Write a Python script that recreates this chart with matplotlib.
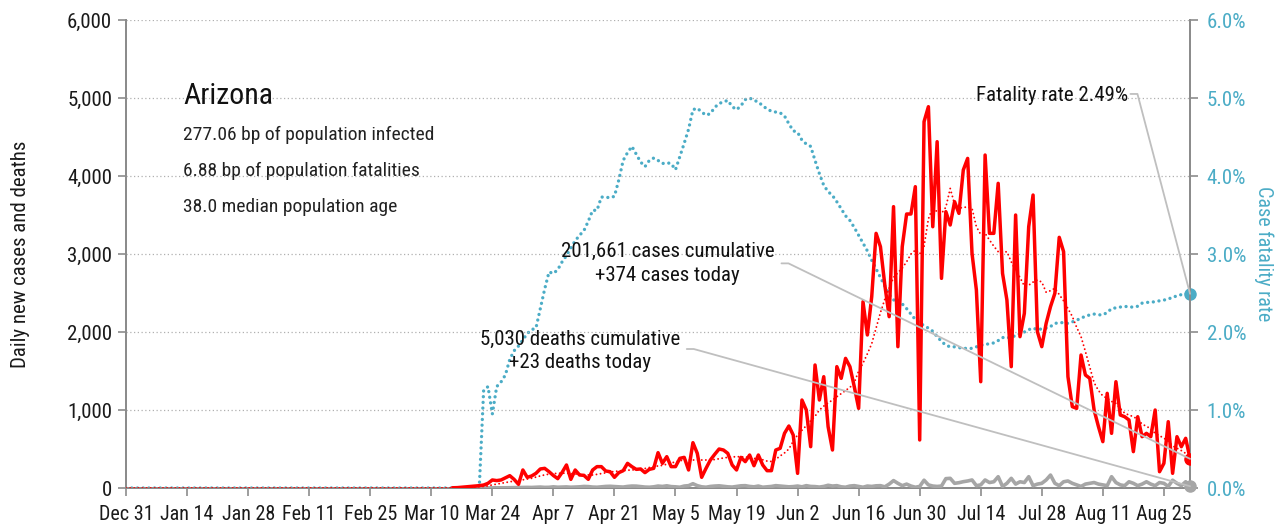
import numpy as np
import pandas as pd
import matplotlib
matplotlib.use("Agg")
import matplotlib.pyplot as plt
import matplotlib.dates as mdates
from matplotlib.ticker import FuncFormatter

plt.rcParams['font.family'] = ['Roboto Condensed', 'Liberation Sans Narrow', 'Roboto', 'DejaVu Sans']

# data: daily values, Dec 31 2019 .. Aug 31 2020
first_day = pd.Timestamp('2019-12-31')
last_day = pd.Timestamp('2020-08-31')

# daily new cases from Mar 15
cases_start = pd.Timestamp('2020-03-15')
cases = [3, 5, 10, 15, 20, 25, 30, 38, 60, 103,
         95, 103, 130, 158, 110, 47, 231, 137, 154, 188,
         244, 252, 209, 160, 120, 200, 295, 111, 231, 167,
         162, 111, 231, 274, 274, 218, 209, 137, 197, 222,
         316, 274, 239, 244, 197, 239, 252, 453, 316, 402,
         274, 274, 380, 393, 231, 581, 444, 137, 252, 359,
         432, 500, 487, 444, 295, 231, 393, 338, 423, 286,
         423, 295, 222, 222, 487, 509, 701, 795, 679, 188,
         1128, 1000, 530, 1577, 1128, 1427, 786, 487, 1556, 1406,
         1662, 1556, 1299, 1021, 2389, 1962, 2453, 3265, 3094, 2603,
         2197, 3607, 1812, 3094, 3513, 3513, 3863, 616, 4697, 4889,
         3350, 4440, 2688, 3543, 3372, 3671, 3521, 4077, 4226, 3009,
         2539, 1363, 4269, 3265, 3265, 3906, 2752, 2411, 1556, 3500,
         1940, 2239, 3350, 3756, 2004, 1812, 2111, 2325, 2496, 3214,
         3030, 1427, 1043, 1021, 1705, 1449, 1406, 1000, 786, 594,
         1214, 701, 1363, 936, 914, 872, 466, 914, 658, 701,
         658, 1000, 209, 316, 850, 188, 658, 530, 637, 374]

# 7-day average of cases (red dotted), same dates as cases, zero before
cases_avg = [1, 2, 3, 5, 8, 12, 16, 20, 28, 40,
             50, 60, 70, 80, 88, 95, 105, 115, 125, 140,
             155, 168, 178, 185, 188, 190, 190, 185, 180, 175,
             170, 167, 167, 175, 185, 195, 205, 212, 218, 222,
             228, 231, 235, 240, 250, 262, 275, 282, 290, 305,
             320, 335, 350, 359, 359, 360, 360, 358, 358, 359,
             365, 375, 385, 393, 398, 402, 400, 398, 390, 380,
             370, 362, 345, 340, 370, 410, 450, 500, 600, 680,
             740, 800, 860, 920, 1000, 1050, 1090, 1128, 1170, 1210,
             1250, 1290, 1350, 1500, 1600, 1720, 1850, 2050, 2250, 2420,
             2560, 2700, 2760, 2820, 2900, 3000, 3050, 3000, 3100, 3450,
             3600, 3540, 3520, 3600, 3840, 3640, 3585, 3600, 3600, 3585,
             3350, 3250, 3265, 3180, 3100, 3030, 3020, 3030, 2900, 2790,
             2700, 2590, 2600, 2640, 2667, 2640, 2510, 2530, 2560, 2480,
             2400, 2300, 2200, 2060, 1940, 1750, 1550, 1350, 1250, 1180,
             1150, 1110, 1085, 1020, 960, 935, 915, 880, 820, 790,
             760, 700, 670, 640, 600, 540, 510, 480, 444, 402]

# daily deaths and case fatality rate (%) from Mar 21
deaths_start = pd.Timestamp('2020-03-21')
deaths = [0, 1, 1, 2, 2, 3, 3, 4, 5, 5,
          6, 8, 7, 10, 12, 8, 9, 15, 10, 12,
          14, 10, 12, 15, 20, 18, 12, 10, 15, 20,
          22, 18, 15, 12, 20, 25, 24, 18, 12, 10,
          15, 25, 20, 28, 18, 15, 10, 25, 30, 55,
          30, 15, 10, 20, 25, 28, 22, 15, 12, 20,
          28, 30, 20, 15, 25, 10, 15, 20, 30, 25,
          20, 15, 18, 25, 15, 30, 20, 18, 12, 20,
          35, 25, 30, 15, 10, 25, 30, 20, 10, 25,
          20, 28, 30, 15, 50, 95, 60, 30, 50, 25,
          10, 20, 100, 40, 25, 20, 25, 120, 124, 60,
          68, 81, 90, 103, 30, 40, 103, 70, 80, 145,
          20, 60, 124, 50, 80, 70, 145, 30, 50, 60,
          103, 166, 60, 30, 80, 90, 60, 40, 20, 50,
          60, 70, 50, 40, 30, 145, 70, 40, 30, 80,
          60, 30, 50, 80, 50, 30, 70, 60, 20, 100,
          60, 30, 80, 23]

# zero before Mar 21
cfr = [0.0, 1.25, 1.30, 0.95, 1.30, 1.36, 1.45, 1.65, 1.76, 1.82,
       1.90, 1.98, 2.03, 2.05, 2.30, 2.55, 2.77, 2.75, 2.80, 2.90,
       2.98, 3.08, 3.17, 3.24, 3.30, 3.42, 3.56, 3.56, 3.73, 3.73,
       3.72, 3.74, 3.95, 4.20, 4.30, 4.38, 4.28, 4.18, 4.12, 4.20,
       4.23, 4.20, 4.16, 4.17, 4.16, 4.08, 4.25, 4.42, 4.60, 4.85,
       4.87, 4.82, 4.78, 4.80, 4.88, 4.93, 4.95, 4.97, 4.89, 4.85,
       4.90, 4.98, 5.00, 4.97, 4.95, 4.90, 4.86, 4.83, 4.82, 4.81,
       4.77, 4.67, 4.58, 4.56, 4.46, 4.41, 4.38, 4.20, 4.03, 3.88,
       3.80, 3.75, 3.67, 3.58, 3.49, 3.43, 3.34, 3.24, 3.14, 3.04,
       2.92, 2.81, 2.70, 2.59, 2.48, 2.41, 2.42, 2.36, 2.30, 2.23,
       2.16, 2.12, 2.08, 2.05, 2.01, 1.94, 1.88, 1.83, 1.81, 1.81,
       1.80, 1.79, 1.79, 1.79, 1.81, 1.83, 1.84, 1.85, 1.86, 1.89,
       1.93, 1.92, 1.94, 1.95, 1.98, 2.00, 2.03, 2.05, 2.03, 2.04,
       2.05, 2.07, 2.11, 2.12, 2.12, 2.11, 2.13, 2.15, 2.18, 2.20,
       2.22, 2.23, 2.22, 2.22, 2.25, 2.30, 2.31, 2.32, 2.33, 2.32,
       2.32, 2.33, 2.37, 2.38, 2.38, 2.39, 2.40, 2.41, 2.42, 2.45,
       2.46, 2.48, 2.49, 2.49]

state = 'Arizona'
info_lines = ['277.06 bp of population infected',
              '6.88 bp of population fatalities',
              '38.0 median population age']
cases_note = '201,661 cases cumulative\n+374 cases today'
deaths_note = '5,030 deaths cumulative\n+23 deaths today'
cfr_note = 'Fatality rate 2.49%'

# put every series on the full date range
days = pd.date_range(first_day, last_day, freq='D')
cases_s = pd.Series(cases, index=pd.date_range(cases_start, periods=len(cases)), dtype=float).reindex(days)
avg_s = pd.Series(cases_avg, index=pd.date_range(cases_start, periods=len(cases_avg))).reindex(days, fill_value=0)
deaths_s = pd.Series(deaths, index=pd.date_range(deaths_start, periods=len(deaths)), dtype=float).reindex(days)
cfr_s = pd.Series(cfr, index=pd.date_range(deaths_start, periods=len(cfr))).reindex(days, fill_value=0)

RED = '#ff0000'
BLUE = '#4bacc6'
GREY = '#a6a6a6'
AXC = '#8c8c8c'
LEAD = '#bfbfbf'

fig = plt.figure(figsize=(12.81, 5.27), dpi=100)
ax = fig.add_axes([0.0984, 0.074, 0.8306, 0.888])
ax2 = ax.twinx()

ax2.plot(cfr_s.index, cfr_s.values, color=BLUE, lw=2.4, linestyle=(0, (0.01, 1.7)),
         dash_capstyle='round', zorder=2)
ax.plot(deaths_s.index, deaths_s.values, color=GREY, lw=2.6, zorder=3)
ax.plot(avg_s.index, avg_s.values, color=RED, lw=1.4, linestyle=(0, (0.01, 2.1)),
        dash_capstyle='round', zorder=3)
ax.plot(cases_s.index, cases_s.values, color=RED, lw=2.5, zorder=4)
ax.plot(cases_s.index[-1], cases_s.values[-1], 'o', color=RED, ms=8, zorder=5)
ax.plot(deaths_s.index[-1], deaths_s.values[-1], 'o', color=GREY, ms=8, zorder=5, clip_on=False)
ax2.plot(cfr_s.index[-1], cfr_s.values[-1], 'o', color=BLUE, ms=8, zorder=5, clip_on=False)

# left axes above the twin so its lines sit on top of the blue dots
ax.set_zorder(ax2.get_zorder() + 1)
ax.patch.set_visible(False)

ax.set_xlim(first_day, last_day)
ax.set_ylim(0, 6000)
ax2.set_ylim(0, 6.0)
ax.set_yticks(np.arange(0, 6001, 1000))
ax2.set_yticks(np.arange(0, 6.01, 1.0))
ax.yaxis.set_major_formatter(FuncFormatter(lambda v, p: f'{v:,.0f}'))
ax2.yaxis.set_major_formatter(FuncFormatter(lambda v, p: f'{v:.1f}%'))
ticks = pd.date_range(first_day, last_day, freq='14D')
ax.set_xticks(ticks)
ax.set_xticklabels([f'{d.strftime("%b")} {d.day}' for d in ticks])

ax.grid(axis='y', color='#b0b0b0', linestyle=(0, (1, 2)), lw=0.9)
for a in (ax, ax2):
    a.spines['top'].set_visible(False)
    for side in ('left', 'right', 'bottom'):
        a.spines[side].set_color(AXC)
        a.spines[side].set_linewidth(1.4)
ax.tick_params(axis='both', colors=AXC, length=6, width=1.2, labelsize=15, pad=4)
ax.tick_params(axis='both', labelcolor='#1a1a1a')
ax.tick_params(axis='x', labelsize=14.5, pad=6)
ax2.tick_params(axis='y', colors=AXC, length=6, width=1.2, labelsize=15, labelcolor=BLUE, pad=6)

ax.set_ylabel('Daily new cases and deaths', fontsize=15, color='#1a1a1a', labelpad=27)
ax2.set_ylabel('Case fatality rate', fontsize=14.5, color=BLUE, rotation=270, labelpad=20)

# title block
ax.text(0.0536, 0.838, state, transform=ax.transAxes, fontsize=21.5, va='center', ha='left', color='#111111')
for i, line in enumerate(info_lines):
    ax.text(0.0536, 0.755 - i * 0.077, line, transform=ax.transAxes, fontsize=14,
            va='center', ha='left', color='#222222')

# notes with leader lines
lead = dict(arrowstyle='-', color=LEAD, lw=1.3, shrinkA=0, shrinkB=0,
            connectionstyle='arc,angleA=0,angleB=0,armA=7,armB=0,rad=0')
ax.text(0.509, 0.480, cases_note, transform=ax.transAxes, fontsize=15, ha='center', va='center',
        linespacing=1.3, color='#111111', zorder=6)
ax.annotate('', xy=(cases_s.index[-1], cases_s.values[-1]), xycoords='data',
            xytext=(0.616, 0.48), textcoords='axes fraction', arrowprops=lead, zorder=6)
ax.text(0.427, 0.293, deaths_note, transform=ax.transAxes, fontsize=15, ha='center', va='center',
        linespacing=1.3, color='#111111', zorder=6)
ax.annotate('', xy=(deaths_s.index[-1], deaths_s.values[-1]), xycoords='data',
            xytext=(0.527, 0.297), textcoords='axes fraction', arrowprops=lead, zorder=6)
ax.text(0.942, 0.838, cfr_note, transform=ax.transAxes, fontsize=15, ha='right', va='center',
        color='#111111', zorder=6)
ax.annotate('', xy=(mdates.date2num(cfr_s.index[-1]), ax.get_ylim()[1] * cfr_s.values[-1] / 6.0),
            xycoords='data', xytext=(0.944, 0.842), textcoords='axes fraction',
            arrowprops=lead, zorder=6)

fig.savefig('out.png', dpi=100)
